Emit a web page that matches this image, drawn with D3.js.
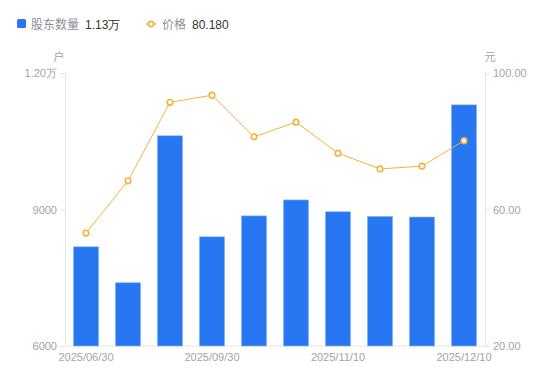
<!DOCTYPE html>
<html><head><meta charset="utf-8">
<script src="https://cdn.jsdelivr.net/npm/d3@7"></script>
<style>
body{margin:0;background:#fff;font-family:"Noto Sans CJK SC","Noto Sans",sans-serif;}
</style></head>
<body><svg id="c" width="550" height="381"></svg>
<script>
const categories = ["2025/06/30","2025/07/31","2025/08/31","2025/09/30","2025/10/20","2025/10/31","2025/11/10","2025/11/20","2025/11/30","2025/12/10"];
const holders = [8180, 7390, 10620, 8400, 8860, 9210, 8950, 8850, 8835, 11300];
const prices = [53.1, 68.4, 91.4, 93.5, 81.3, 85.6, 76.5, 71.9, 72.7, 80.18];
const leftTicks = [6000, 9000, 12000];
const rightTicks = [20, 60, 100];
const shownLabels = ["2025/06/30","2025/09/30","2025/11/10","2025/12/10"];

const svg = d3.select("#c");
const L = 65, R = 485, T = 73, B = 346;
const axisColor = "#e3e4e8", textColor = "#a1a3ad";
const barColor = "#2777f2", lineColor = "#f8b13e";

const x = d3.scaleBand().domain(categories).range([L, R]).paddingInner(0.4).paddingOuter(0.2);
const yL = d3.scaleLinear().domain([6000, 12000]).range([B, T]);
const yR = d3.scaleLinear().domain([20, 100]).range([B, T]);

const fmtL = v => v >= 10000 ? (v/10000).toFixed(2) + "万" : String(v);

// left axis
const gl = svg.append("g").attr("transform", `translate(${L},0)`)
  .call(d3.axisLeft(yL).tickValues(leftTicks).tickFormat(fmtL).tickSize(5).tickPadding(3));
// right axis
const gr = svg.append("g").attr("transform", `translate(${R},0)`)
  .call(d3.axisRight(yR).tickValues(rightTicks).tickFormat(d => d.toFixed(2)).tickSize(5).tickPadding(3));
// bottom axis
const gb = svg.append("g").attr("transform", `translate(0,${B})`)
  .call(d3.axisBottom(x).tickValues(shownLabels).tickSize(0).tickPadding(7));

[gl, gr, gb].forEach(g => {
  g.select(".domain").attr("stroke", axisColor);
  g.selectAll(".tick line").attr("stroke", axisColor);
  g.selectAll("text").attr("fill", textColor).style("font-size", "11px")
    .style("font-family", "Liberation Sans, Arial, sans-serif");
});
gb.select(".domain").attr("d", `M${L},0H${R}`);

// units
svg.append("text").attr("x", 59).attr("y", 61).attr("text-anchor", "middle")
  .attr("fill", textColor).style("font-size", "11px").text("户");
svg.append("text").attr("x", 490).attr("y", 61).attr("text-anchor", "middle")
  .attr("fill", textColor).style("font-size", "11px").text("元");

// bars
svg.append("g").selectAll("rect").data(categories).join("rect")
  .attr("x", d => x(d))
  .attr("width", x.bandwidth())
  .attr("y", (d, i) => yL(holders[i]))
  .attr("height", (d, i) => B - yL(holders[i]))
  .attr("fill", barColor)
  .attr("stroke", "#8fb8f8").attr("stroke-width", 0.6);

// line
const cx = d => x(d) + x.bandwidth() / 2;
svg.append("path")
  .datum(categories)
  .attr("fill", "none").attr("stroke", lineColor).attr("stroke-width", 1)
  .attr("d", d3.line().x(d => cx(d)).y((d, i) => yR(prices[i])));
svg.append("g").selectAll("circle").data(categories).join("circle")
  .attr("cx", d => cx(d)).attr("cy", (d, i) => yR(prices[i]))
  .attr("r", 2.8).attr("fill", "#fff").attr("stroke", lineColor).attr("stroke-width", 1.6);

// legend
const lg = svg.append("g").style("font-size", "12px");
lg.append("rect").attr("x", 17).attr("y", 19).attr("width", 9).attr("height", 9).attr("rx", 1.5).attr("fill", barColor);
lg.append("text").attr("x", 31).attr("y", 28.5).attr("fill", "#8c8f99").text("股东数量");
lg.append("text").attr("x", 85).attr("y", 28.5).attr("fill", "#333").style("font-family","Liberation Sans, Arial, sans-serif").text(fmtL(holders[holders.length-1]));
lg.append("line").attr("x1", 146).attr("x2", 156).attr("y1", 24).attr("y2", 24).attr("stroke", lineColor).attr("stroke-width", 1.5);
lg.append("circle").attr("cx", 151).attr("cy", 24).attr("r", 2.6).attr("fill", "#fff").attr("stroke", lineColor).attr("stroke-width", 1.6);
lg.append("text").attr("x", 162).attr("y", 28.5).attr("fill", "#8c8f99").text("价格");
lg.append("text").attr("x", 192).attr("y", 28.5).attr("fill", "#333").style("font-family","Liberation Sans, Arial, sans-serif").text(prices[prices.length-1].toFixed(3));
</script></body></html>
